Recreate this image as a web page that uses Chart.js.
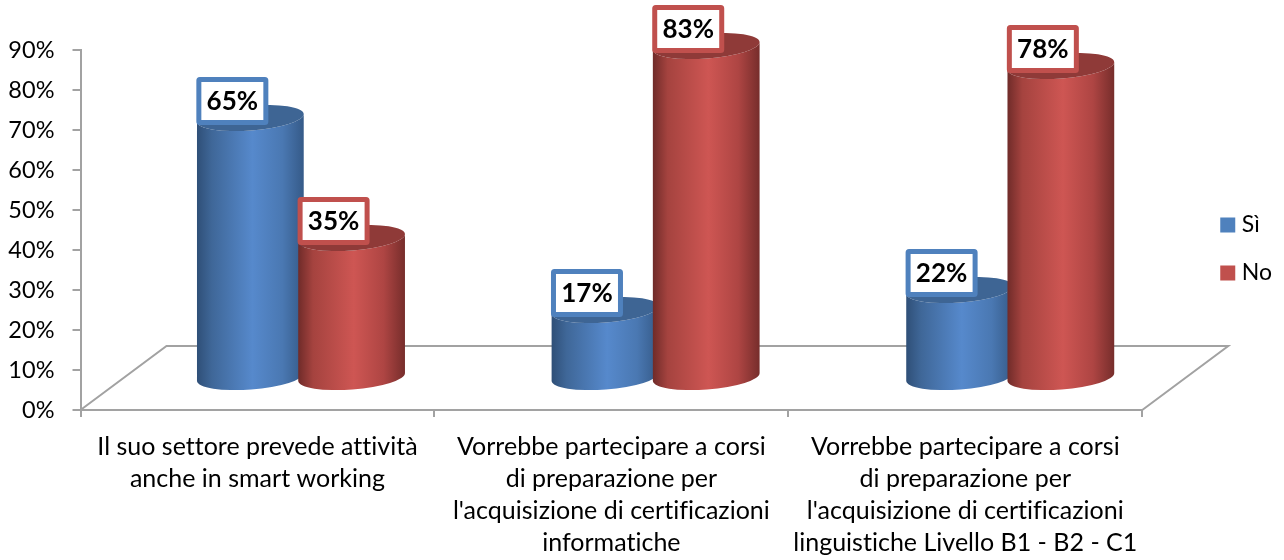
<!DOCTYPE html>
<html>
<head>
<meta charset="utf-8">
<title>Smart working e certificazioni</title>
<script src="https://cdn.jsdelivr.net/npm/chart.js@4"></script>
<style>
    body { margin: 0; background: #fff; }
    canvas { display: block; }
</style>
</head>
<body>
<canvas id="myChart" width="1284" height="560"></canvas>
<script>
const categories = [
    ['Il suo settore prevede attività', 'anche in smart working'],
    ['Vorrebbe partecipare a corsi', 'di preparazione per', "l'acquisizione di certificazioni", 'informatiche'],
    ['Vorrebbe partecipare a corsi', 'di preparazione per', "l'acquisizione di certificazioni", 'linguistiche Livello B1 - B2 - C1']
];
const siValues = [65, 17, 22];
const noValues = [35, 83, 78];
const seriesNames = ['Sì', 'No'];

const fontName = 'Lato, Carlito, sans-serif';
const axisColor = '#a2a2a2';

// gradient stops for the cylinder sides, dark edge -> light middle -> dark edge
const looks = [
    { line: '#4f81bd', top: '#3e6594', side: ['#2f4f77', '#3f6798', '#5689cc', '#4a78b2', '#355a88'] },
    { line: '#c0504d', top: '#8f3a38', side: ['#6f2b29', '#a5433f', '#ce5653', '#ae4543', '#762d2b'] }
];
const stops = [0, 0.14, 0.52, 0.8, 1];

// the 3D floor goes back and to the right
const depthX = 86;
const depthY = 64;
// bars stand in the middle of the floor
const barShiftX = 43;
const barShiftY = 32;
const perspective = 0.002;
const tilt = -0.075;
const ry = 12.5;

function cylinderX(bar) {
    return bar.x + barShiftX + bar.x * perspective;
}

function drawFloor(chart) {
    const ctx = chart.ctx;
    const a = chart.chartArea;
    ctx.save();
    ctx.strokeStyle = axisColor;
    ctx.lineWidth = 2;
    ctx.beginPath();
    ctx.moveTo(a.left, a.bottom);
    ctx.lineTo(a.left + depthX, a.bottom - depthY);
    ctx.lineTo(a.right + depthX, a.bottom - depthY);
    ctx.lineTo(a.right, a.bottom);
    ctx.stroke();
    ctx.restore();
}

function drawCylinder(ctx, bar, look) {
    const cx = cylinderX(bar);
    const rx = bar.width / 2 + 3;
    const topY = bar.y - barShiftY;
    const baseY = bar.base - barShiftY;
    const ex = rx * Math.cos(tilt);
    const ey = rx * Math.sin(tilt);

    const grad = ctx.createLinearGradient(cx - rx, 0, cx + rx, 0);
    look.side.forEach((c, i) => grad.addColorStop(stops[i], c));

    ctx.beginPath();
    ctx.moveTo(cx - ex, topY - ey);
    ctx.lineTo(cx - ex, baseY - ey);
    ctx.ellipse(cx, baseY, rx, ry, tilt, Math.PI, 0, true);
    ctx.lineTo(cx + ex, topY + ey);
    ctx.ellipse(cx, topY, rx, ry, tilt, 0, Math.PI, false);
    ctx.closePath();
    ctx.fillStyle = grad;
    ctx.fill();

    ctx.beginPath();
    ctx.ellipse(cx, topY, rx, ry, tilt, 0, Math.PI * 2);
    ctx.fillStyle = look.top;
    ctx.fill();
}

function drawValueBox(ctx, bar, value, look) {
    const w = 72;
    const h = 48;
    const cx = cylinderX(bar) - 18;
    const cy = bar.y - barShiftY - 17;
    ctx.beginPath();
    ctx.roundRect(cx - w / 2 + 2.5, cy - h / 2 + 2.5, w - 5, h - 5, 1);
    ctx.fillStyle = '#fff';
    ctx.fill();
    ctx.lineWidth = 5;
    ctx.strokeStyle = look.line;
    ctx.stroke();
    ctx.fillStyle = '#000';
    ctx.font = 'bold 26px ' + fontName;
    ctx.textAlign = 'center';
    ctx.textBaseline = 'middle';
    ctx.fillText(value + '%', cx, cy + 1);
}

const cylinders = {
    id: 'cylinders',
    afterLayout(chart) {
        // legend sits a bit left of and higher than where chart.js would put it
        chart.legend.left -= 2;
        chart.legend.right -= 2;
        chart.legend.top -= 56;
        chart.legend.bottom -= 56;
    },
    beforeDraw(chart) {
        // a tiny spacing switches off the tt/fi ligatures of Lato
        chart.ctx.letterSpacing = '0.01px';
    },
    beforeDatasetsDraw(chart) {
        const ctx = chart.ctx;
        drawFloor(chart);
        ctx.save();
        chart.data.datasets.forEach((ds, d) => {
            chart.getDatasetMeta(d).data.forEach(bar => drawCylinder(ctx, bar, looks[d]));
        });
        chart.data.datasets.forEach((ds, d) => {
            chart.getDatasetMeta(d).data.forEach((bar, i) => drawValueBox(ctx, bar, ds.data[i], looks[d]));
        });
        ctx.restore();
    },
    // the flat bars are replaced by the cylinders above
    beforeDatasetDraw() {
        return false;
    }
};

// borderWidth only feeds the legend square: small box + thick stroke pulls the text closer
const myChart = new Chart(document.getElementById('myChart'), {
    type: 'bar',
    data: {
        labels: categories,
        datasets: [
            { label: seriesNames[0], data: siValues, backgroundColor: looks[0].line, borderColor: looks[0].line, borderWidth: 10 },
            { label: seriesNames[1], data: noValues, backgroundColor: looks[1].line, borderColor: looks[1].line, borderWidth: 10 }
        ]
    },
    options: {
        responsive: false,
        animation: false,
        layout: { padding: { top: 50, left: 0, right: 0, bottom: 0 } },
        categoryPercentage: 0.571,
        barPercentage: 1,
        scales: {
            x: {
                afterFit: s => { s.height = 150; },
                grid: { drawOnChartArea: false, color: axisColor, lineWidth: 2, tickLength: 7, offset: true },
                border: { color: axisColor, width: 2 },
                ticks: {
                    color: '#000',
                    font: { family: fontName, size: 25, lineHeight: 1.28 },
                    padding: 14,
                    autoSkip: false,
                    maxRotation: 0
                }
            },
            y: {
                min: 0,
                max: 90,
                afterFit: s => { s.width = 80.5; },
                grid: { drawOnChartArea: false, color: axisColor, lineWidth: 2, tickLength: 8 },
                border: { color: axisColor, width: 2 },
                ticks: {
                    stepSize: 10,
                    color: '#000',
                    font: { family: fontName, size: 23.5 },
                    padding: 18,
                    callback: v => v + '%'
                }
            },
            // empty axis, only keeps the gap between plot and legend
            gap: {
                type: 'linear',
                position: 'right',
                display: true,
                afterFit: s => { s.width = 60; },
                grid: { display: false },
                border: { display: false },
                ticks: { display: false }
            }
        },
        plugins: {
            tooltip: { enabled: false },
            legend: {
                position: 'right',
                labels: {
                    color: '#000',
                    font: { family: fontName, size: 23 },
                    boxWidth: 5,
                    boxHeight: 5,
                    padding: 25
                }
            }
        }
    },
    plugins: [cylinders]
});
</script>
</body>
</html>
